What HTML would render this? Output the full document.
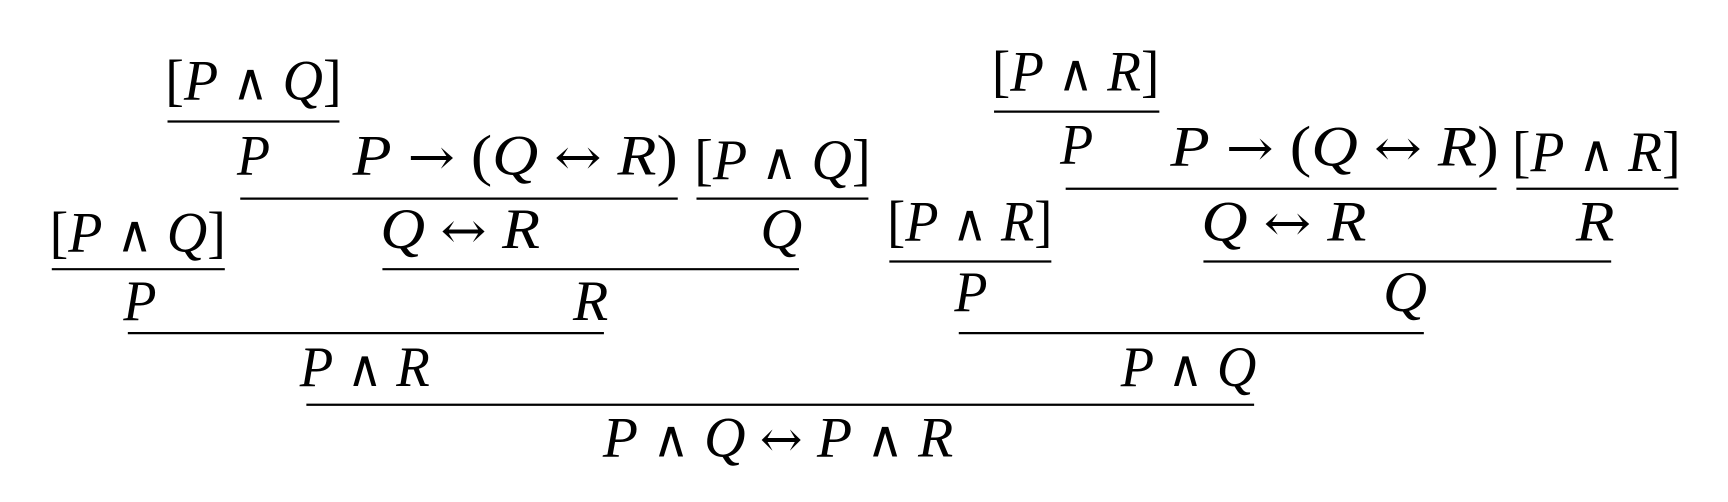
<!DOCTYPE html>
<html><head><meta charset="utf-8"><style>
html,body{margin:0;padding:0;background:#fff;}
svg{display:block;}
text{font-family:"Liberation Serif","DejaVu Serif",serif;font-size:52px;fill:#000;}
.i{font-style:italic;}
.o{font-family:"DejaVu Serif",serif;font-size:46px;}
line{stroke:#000;stroke-width:2;}
</style></head><body>
<svg width="1728" height="502" viewBox="0 0 1568 455" xmlns="http://www.w3.org/2000/svg">
<g>
<text x="150" y="90" textLength="160" lengthAdjust="spacingAndGlyphs">[<tspan class="i">P</tspan> <tspan class="o">∧</tspan> <tspan class="i">Q</tspan>]</text>
<line x1="152" y1="110" x2="308" y2="110"/>
<text class="i" x="215" y="158" textLength="30" lengthAdjust="spacingAndGlyphs">P</text>
<text x="320" y="158" textLength="295" lengthAdjust="spacingAndGlyphs"><tspan class="i">P</tspan> <tspan class="o">→</tspan> (<tspan class="i">Q</tspan> <tspan class="o">↔</tspan> <tspan class="i">R</tspan>)</text>
<text x="630" y="162" textLength="160" lengthAdjust="spacingAndGlyphs">[<tspan class="i">P</tspan> <tspan class="o">∧</tspan> <tspan class="i">Q</tspan>]</text>
<line x1="218" y1="180" x2="615" y2="180"/>
<line x1="632" y1="180" x2="788" y2="180"/>
<text x="45" y="228" textLength="160" lengthAdjust="spacingAndGlyphs">[<tspan class="i">P</tspan> <tspan class="o">∧</tspan> <tspan class="i">Q</tspan>]</text>
<text x="345" y="225" textLength="145" lengthAdjust="spacingAndGlyphs"><tspan class="i">Q</tspan> <tspan class="o">↔</tspan> <tspan class="i">R</tspan></text>
<text class="i" x="690" y="225" textLength="38" lengthAdjust="spacingAndGlyphs">Q</text>
<line x1="47" y1="244" x2="204" y2="244"/>
<line x1="347" y1="244" x2="725" y2="244"/>
<text class="i" x="112" y="290" textLength="30" lengthAdjust="spacingAndGlyphs">P</text>
<text class="i" x="520" y="290" textLength="32" lengthAdjust="spacingAndGlyphs">R</text>
<line x1="116" y1="302" x2="548" y2="302"/>
<text x="272" y="350" textLength="118" lengthAdjust="spacingAndGlyphs"><tspan class="i">P</tspan> <tspan class="o">∧</tspan> <tspan class="i">R</tspan></text>
</g>
<g>
<text x="900" y="82" textLength="152" lengthAdjust="spacingAndGlyphs">[<tspan class="i">P</tspan> <tspan class="o">∧</tspan> <tspan class="i">R</tspan>]</text>
<line x1="902" y1="101" x2="1052" y2="101"/>
<text class="i" x="962" y="148" textLength="30" lengthAdjust="spacingAndGlyphs">P</text>
<text x="1062" y="150" textLength="298" lengthAdjust="spacingAndGlyphs"><tspan class="i">P</tspan> <tspan class="o">→</tspan> (<tspan class="i">Q</tspan> <tspan class="o">↔</tspan> <tspan class="i">R</tspan>)</text>
<text x="1372" y="155" textLength="153" lengthAdjust="spacingAndGlyphs">[<tspan class="i">P</tspan> <tspan class="o">∧</tspan> <tspan class="i">R</tspan>]</text>
<line x1="967" y1="171" x2="1358" y2="171"/>
<line x1="1376" y1="171" x2="1523" y2="171"/>
<text x="805" y="218" textLength="150" lengthAdjust="spacingAndGlyphs">[<tspan class="i">P</tspan> <tspan class="o">∧</tspan> <tspan class="i">R</tspan>]</text>
<text x="1090" y="218" textLength="150" lengthAdjust="spacingAndGlyphs"><tspan class="i">Q</tspan> <tspan class="o">↔</tspan> <tspan class="i">R</tspan></text>
<text class="i" x="1430" y="218" textLength="35" lengthAdjust="spacingAndGlyphs">R</text>
<line x1="807" y1="237" x2="954" y2="237"/>
<line x1="1092" y1="237" x2="1462" y2="237"/>
<text class="i" x="866" y="282" textLength="30" lengthAdjust="spacingAndGlyphs">P</text>
<text class="i" x="1255" y="282" textLength="40" lengthAdjust="spacingAndGlyphs">Q</text>
<line x1="870" y1="302" x2="1292" y2="302"/>
<text x="1017" y="350" textLength="123" lengthAdjust="spacingAndGlyphs"><tspan class="i">P</tspan> <tspan class="o">∧</tspan> <tspan class="i">Q</tspan></text>
</g>
<line x1="278" y1="367" x2="1138" y2="367"/>
<text x="547" y="414" textLength="318" lengthAdjust="spacingAndGlyphs"><tspan class="i">P</tspan> <tspan class="o">∧</tspan> <tspan class="i">Q</tspan> <tspan class="o">↔</tspan> <tspan class="i">P</tspan> <tspan class="o">∧</tspan> <tspan class="i">R</tspan></text>
</svg>
</body></html>
